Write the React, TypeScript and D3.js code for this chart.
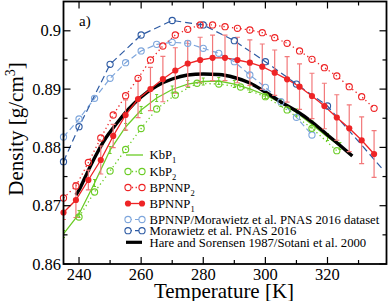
import React from "react";
import * as d3 from "d3";

const W = 388;
const H = 301;

// ---- data ----
const tempBP = [235, 239, 243, 247, 251, 255, 259, 263, 267, 271, 275, 279, 283, 287, 291, 295, 299, 303, 307, 311, 315, 319, 323, 327, 331, 335];
const bpnnp2 = [0.87132, 0.87338, 0.87741, 0.88161, 0.88556, 0.88887, 0.89185, 0.89499, 0.89739, 0.89928, 0.90026, 0.901, 0.901, 0.9007, 0.90043, 0.90014, 0.89967, 0.89882, 0.89786, 0.89654, 0.89511, 0.89367, 0.89225, 0.89041, 0.8887, 0.88671];
const bpnnp1 = [0.86883, 0.87098, 0.87441, 0.87784, 0.88196, 0.88556, 0.8883, 0.89002, 0.89173, 0.89319, 0.89439, 0.89499, 0.89537, 0.89537, 0.89499, 0.89453, 0.89384, 0.89281, 0.89168, 0.89041, 0.88882, 0.8871, 0.88513, 0.88328, 0.88122, 0.87887];
const bpnnp1Err = [0.0012, 0.003, 0.0017, 0.0024, 0.002, 0.0026, 0.0032, 0.0037, 0.0039, 0.0039, 0.0039, 0.0039, 0.0039, 0.0039, 0.0039, 0.0039, 0.0039, 0.0039, 0.0039, 0.0039, 0.0039, 0.0039, 0.0039, 0.004, 0.004, 0.004];

const tempKbP1 = [235, 240, 245, 250, 255, 260, 265, 270, 275, 280, 285, 290, 295, 300, 305, 310, 315, 320, 324];
const kbp1 = [0.86515, 0.86858, 0.87389, 0.87955, 0.8835, 0.88642, 0.88847, 0.88993, 0.89087, 0.8913, 0.89139, 0.89087, 0.89002, 0.88899, 0.88762, 0.88599, 0.88393, 0.88178, 0.88024];

const tempKbP2 = [240, 245, 250, 255, 260, 265, 271, 278, 285, 292, 300, 307, 315, 323];
const kbp2 = [0.86806, 0.87235, 0.87595, 0.87964, 0.88324, 0.88659, 0.88899, 0.891, 0.89087, 0.89036, 0.8887, 0.88642, 0.88328, 0.87943];

const tempMorDS = [235, 240, 245, 250, 255, 260, 265, 270, 275, 280, 285, 290, 295, 300, 305, 310, 315];
const morDS = [0.88178, 0.88487, 0.88842, 0.89185, 0.89453, 0.89654, 0.89768, 0.89803, 0.89786, 0.897, 0.89614, 0.8947, 0.89242, 0.89031, 0.88784, 0.88516, 0.88213];

const tempMor = [235, 240, 250, 260, 270, 280, 290, 300, 310, 320, 338];
const mor = [0.87755, 0.88355, 0.89425, 0.89928, 0.90177, 0.901, 0.8983, 0.8947, 0.89087, 0.8871, 0.87612];

const tempExp = [239, 240, 242, 244, 246, 248, 250, 253, 256, 260, 265, 270, 275, 280, 285, 290, 295, 300, 305, 310, 315, 320, 325, 328];
const expt = [0.87184, 0.87269, 0.87492, 0.87715, 0.87921, 0.8811, 0.88264, 0.8847, 0.88659, 0.88865, 0.89053, 0.89173, 0.89242, 0.89259, 0.8925, 0.89199, 0.89105, 0.8895, 0.88779, 0.88624, 0.88436, 0.88213, 0.8799, 0.87852];

const xTicks = [240, 260, 280, 300, 320];
const xMinor = [250, 270, 290, 310, 330];
const yTicks = [0.86, 0.87, 0.88, 0.89, 0.9];
const yMinor = [0.865, 0.875, 0.885, 0.895];
const yTickLabels = ["0.86", "0.87", "0.88", "0.89", "0.9"];

const legendItems = [
  { key: "kbp1", base: "KbP", sub: "1" },
  { key: "kbp2", base: "KbP", sub: "2" },
  { key: "bp2", base: "BPNNP", sub: "2" },
  { key: "bp1", base: "BPNNP", sub: "1" },
  { key: "morDS", base: "BPNNP/Morawietz et al. PNAS 2016 dataset", sub: "" },
  { key: "mor", base: "Morawietz et al. PNAS 2016", sub: "" },
  { key: "exp", base: "Hare and Sorensen 1987/Sotani et al. 2000", sub: "" },
];
const legendY = [155, 171.5, 187.5, 203.5, 219.5, 230.7, 242.3];

// ---- styles ----
const RED = "#ee2426";
const RED_ERR = "#f2787a";
const GREEN = "#6bcc26";
const LBLUE = "#7ea6dc";
const DBLUE = "#2d5aa3";
const FONT = "'Liberation Serif', 'Times New Roman', serif";

const L = 63.5, R = 386.5, T = 1.5, B = 264;

export default function App() {
  const x = d3.scaleLinear().domain([235, 339]).range([L, R]);
  const y = d3.scaleLinear().domain([0.86, 0.905]).range([B, T + 0.15]);

  const mk = (ts: number[], vs: number[], curve: any = d3.curveLinear) =>
    d3.line<number>().x((_, i) => x(ts[i])).y((v) => y(v)).curve(curve)(vs) || "";

  const r = 3.1;

  const openCircles = (ts: number[], vs: number[], color: string) =>
    vs.map((v, i) => (
      <circle key={i} cx={x(ts[i])} cy={y(v)} r={r} fill="none" stroke={color} strokeWidth={1.1} />
    ));

  const legendSample = (key: string, yy: number) => {
    const x1 = 128, x2 = 142;
    switch (key) {
      case "kbp1":
        return <line x1={126} x2={143} y1={yy} y2={yy} stroke={GREEN} strokeWidth={1.3} />;
      case "kbp2":
        return (
          <g>
            <line x1={x1} x2={x2} y1={yy} y2={yy} stroke={GREEN} strokeWidth={1.3} strokeDasharray="1.3,2.5" />
            <circle cx={x1} cy={yy} r={r} fill="white" stroke={GREEN} strokeWidth={1.1} />
            <circle cx={x2} cy={yy} r={r} fill="white" stroke={GREEN} strokeWidth={1.1} />
          </g>
        );
      case "bp2":
        return (
          <g>
            <line x1={x1} x2={x2} y1={yy} y2={yy} stroke={RED} strokeWidth={1.3} strokeDasharray="1.3,2.5" />
            <circle cx={x1} cy={yy} r={r} fill="white" stroke={RED} strokeWidth={1.1} />
            <circle cx={x2} cy={yy} r={r} fill="white" stroke={RED} strokeWidth={1.1} />
          </g>
        );
      case "bp1":
        return (
          <g>
            <line x1={x1} x2={x2} y1={yy} y2={yy} stroke={RED} strokeWidth={1.3} />
            <circle cx={x1} cy={yy} r={r} fill={RED} />
            <circle cx={x2} cy={yy} r={r} fill={RED} />
          </g>
        );
      case "morDS":
        return (
          <g>
            <line x1={x1} x2={x2} y1={yy} y2={yy} stroke={LBLUE} strokeWidth={1.2} strokeDasharray="4,3" />
            <circle cx={x1} cy={yy} r={r} fill="white" stroke={LBLUE} strokeWidth={1.1} />
            <circle cx={x2} cy={yy} r={r} fill="white" stroke={LBLUE} strokeWidth={1.1} />
          </g>
        );
      case "mor":
        return (
          <g>
            <line x1={x1} x2={x2} y1={yy} y2={yy} stroke={DBLUE} strokeWidth={1.2} strokeDasharray="4,3" />
            <circle cx={x1} cy={yy} r={r} fill="white" stroke={DBLUE} strokeWidth={1.1} />
            <circle cx={x2} cy={yy} r={r} fill="white" stroke={DBLUE} strokeWidth={1.1} />
          </g>
        );
      default:
        return <line x1={126} x2={142} y1={yy} y2={yy} stroke="black" strokeWidth={3.2} />;
    }
  };

  return (
    <svg width={W} height={H} style={{ position: "absolute", left: 0, top: 0, background: "white" }} fontFamily={FONT}>
      <defs>
        <clipPath id="plotclip">
          <rect x={L} y={T} width={R - L} height={B - T} />
        </clipPath>
      </defs>

      <g clipPath="url(#plotclip)">
        <path d={mk(tempMorDS, morDS)} fill="none" stroke={LBLUE} strokeWidth={1.2} strokeDasharray="6,3.5" />
        <path d={mk(tempMor, mor)} fill="none" stroke={DBLUE} strokeWidth={1.2} strokeDasharray="7,4" />
        <path d={mk(tempBP, bpnnp2)} fill="none" stroke={RED} strokeWidth={1.3} strokeDasharray="1.3,3" />
        <path d={mk(tempKbP2, kbp2)} fill="none" stroke={GREEN} strokeWidth={1.3} strokeDasharray="1.3,3" />
        <path d={mk(tempKbP1, kbp1)} fill="none" stroke={GREEN} strokeWidth={1.3} />
        {kbp1.map((v, i) => (
          <g key={i} stroke={GREEN} strokeWidth={1}>
            <line x1={x(tempKbP1[i])} x2={x(tempKbP1[i])} y1={y(v + 0.0006)} y2={y(v - 0.0006)} />
            <line x1={x(tempKbP1[i]) - 1.5} x2={x(tempKbP1[i]) + 1.5} y1={y(v + 0.0006)} y2={y(v + 0.0006)} />
            <line x1={x(tempKbP1[i]) - 1.5} x2={x(tempKbP1[i]) + 1.5} y1={y(v - 0.0006)} y2={y(v - 0.0006)} />
          </g>
        ))}
        <path d={mk(tempExp, expt, d3.curveMonotoneX)} fill="none" stroke="black" strokeWidth={3.4} />
        {bpnnp1.map((v, i) => {
          const cx = x(tempBP[i]);
          const e = bpnnp1Err[i];
          return (
            <g key={i} stroke={RED_ERR} strokeWidth={1.2}>
              <line x1={cx} x2={cx} y1={y(v + e)} y2={y(v - e)} />
              <line x1={cx - 2.5} x2={cx + 2.5} y1={y(v + e)} y2={y(v + e)} />
              <line x1={cx - 2.5} x2={cx + 2.5} y1={y(v - e)} y2={y(v - e)} />
            </g>
          );
        })}
        <path d={mk(tempBP, bpnnp1)} fill="none" stroke={RED} strokeWidth={1.3} />
      </g>

      {openCircles(tempMorDS, morDS, LBLUE)}
      {openCircles(tempMor.slice(0, -1), mor.slice(0, -1), DBLUE)}
      {openCircles(tempBP, bpnnp2, RED)}
      {openCircles(tempKbP2, kbp2, GREEN)}
      {bpnnp1.map((v, i) => (
        <circle key={i} cx={x(tempBP[i])} cy={y(v)} r={3.1} fill={RED} />
      ))}

      <rect x={L} y={T} width={R - L} height={B - T} fill="none" stroke="black" strokeWidth={1.8} />

      <g stroke="black" strokeWidth={1.2}>
        {xTicks.map((t) => (
          <g key={"xt" + t}>
            <line x1={x(t)} x2={x(t)} y1={B} y2={B - 7} />
            <line x1={x(t)} x2={x(t)} y1={T} y2={T + 7} />
          </g>
        ))}
        {xMinor.map((t) => (
          <g key={"xm" + t}>
            <line x1={x(t)} x2={x(t)} y1={B} y2={B - 4} />
            <line x1={x(t)} x2={x(t)} y1={T} y2={T + 4} />
          </g>
        ))}
        {yTicks.map((t) => (
          <g key={"yt" + t}>
            <line x1={L} x2={L + 7} y1={y(t)} y2={y(t)} />
            <line x1={R} x2={R - 7} y1={y(t)} y2={y(t)} />
          </g>
        ))}
        {yMinor.map((t) => (
          <g key={"ym" + t}>
            <line x1={L} x2={L + 4} y1={y(t)} y2={y(t)} />
            <line x1={R} x2={R - 4} y1={y(t)} y2={y(t)} />
          </g>
        ))}
      </g>

      <g fontSize={16.5} fill="black">
        {xTicks.map((t) => (
          <text key={"xl" + t} x={x(t)} y={279.5} textAnchor="middle">{t}</text>
        ))}
        {yTicks.map((t, i) => (
          <text key={"yl" + t} x={61} y={y(t) + 5.5} textAnchor="end">{yTickLabels[i]}</text>
        ))}
      </g>

      <text x={224} y={297.5} textAnchor="middle" fontSize={21}>Temperature [K]</text>
      <text transform={`translate(23,129) rotate(-90)`} textAnchor="middle" fontSize={21}>
        Density [g/cm<tspan fontSize={14} dy={-8}>3</tspan><tspan dy={8}>]</tspan>
      </text>

      <text x={79} y={26} fontSize={15}>a)</text>

      {legendItems.map((it, i) => (
        <g key={it.key}>
          {legendSample(it.key, legendY[i])}
          <text x={149.5} y={legendY[i] + 4.3} fontSize={12.7}>
            {it.base}
            {it.sub ? <tspan fontSize={8.5} dy={4}>{it.sub}</tspan> : null}
          </text>
        </g>
      ))}
    </svg>
  );
}
